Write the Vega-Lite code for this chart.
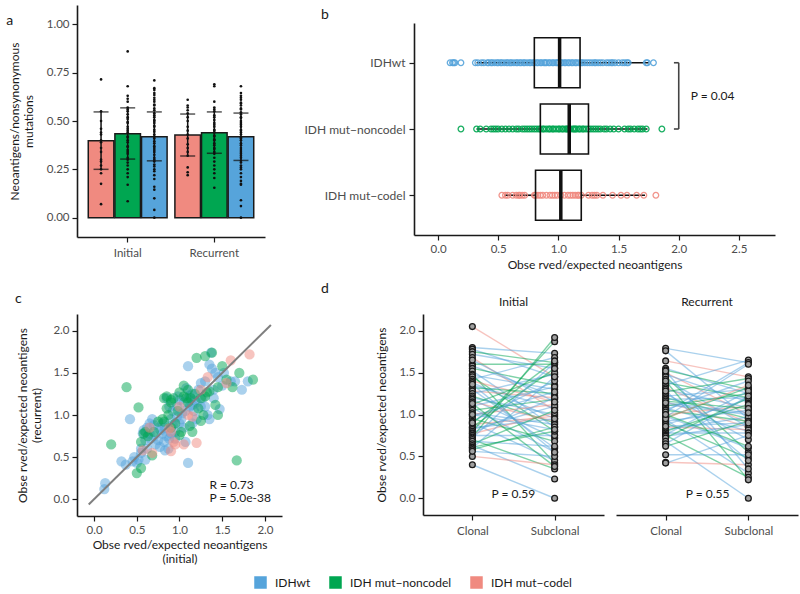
{
"$schema":"https://vega.github.io/schema/vega-lite/v6.json",
"background":"white",
"padding":{"left":6,"top":5,"right":4,"bottom":0},
"config":{
 "font":"Lato",
 "view":{"stroke":null},
 "axis":{"grid":false,"domainColor":"#1a1a1a","domainWidth":1.6,"tickColor":"#1a1a1a","tickWidth":1.2,"tickSize":5,"labelColor":"#4d4d4d","labelFont":"Lato","labelFontSize":11.5,"labelPadding":3,"titleFont":"Lato","titleFontSize":12,"titleFontWeight":"normal","titleColor":"#1a1a1a"},
 "title":{"font":"Lato","fontSize":14,"fontWeight":"normal","color":"#1a1a1a","anchor":"start"}
},
"datasets":{
 "abar":[
  {"g":"Initial","t":"IDH mut−codel","m":0.398,"lo":0.25,"hi":0.547},
  {"g":"Initial","t":"IDH mut−noncodel","m":0.434,"lo":0.303,"hi":0.568},
  {"g":"Initial","t":"IDHwt","m":0.418,"lo":0.294,"hi":0.547},
  {"g":"Recurrent","t":"IDH mut−codel","m":0.428,"lo":0.319,"hi":0.536},
  {"g":"Recurrent","t":"IDH mut−noncodel","m":0.439,"lo":0.333,"hi":0.547},
  {"g":"Recurrent","t":"IDHwt","m":0.418,"lo":0.296,"hi":0.541}
 ],
 "adot":[
  {"g":"Initial","t":"IDH mut−codel","v":0.715},{"g":"Initial","t":"IDH mut−codel","v":0.55},{"g":"Initial","t":"IDH mut−codel","v":0.5},{"g":"Initial","t":"IDH mut−codel","v":0.46},{"g":"Initial","t":"IDH mut−codel","v":0.44},{"g":"Initial","t":"IDH mut−codel","v":0.43},{"g":"Initial","t":"IDH mut−codel","v":0.4},{"g":"Initial","t":"IDH mut−codel","v":0.39},{"g":"Initial","t":"IDH mut−codel","v":0.36},{"g":"Initial","t":"IDH mut−codel","v":0.34},{"g":"Initial","t":"IDH mut−codel","v":0.3},{"g":"Initial","t":"IDH mut−codel","v":0.29},{"g":"Initial","t":"IDH mut−codel","v":0.27},{"g":"Initial","t":"IDH mut−codel","v":0.25},{"g":"Initial","t":"IDH mut−codel","v":0.23},{"g":"Initial","t":"IDH mut−codel","v":0.175},{"g":"Initial","t":"IDH mut−codel","v":0.07},
  {"g":"Initial","t":"IDH mut−noncodel","v":0.86},{"g":"Initial","t":"IDH mut−noncodel","v":0.68},{"g":"Initial","t":"IDH mut−noncodel","v":0.63},{"g":"Initial","t":"IDH mut−noncodel","v":0.615},{"g":"Initial","t":"IDH mut−noncodel","v":0.6},{"g":"Initial","t":"IDH mut−noncodel","v":0.57},{"g":"Initial","t":"IDH mut−noncodel","v":0.56},{"g":"Initial","t":"IDH mut−noncodel","v":0.55},{"g":"Initial","t":"IDH mut−noncodel","v":0.535},{"g":"Initial","t":"IDH mut−noncodel","v":0.52},{"g":"Initial","t":"IDH mut−noncodel","v":0.51},{"g":"Initial","t":"IDH mut−noncodel","v":0.495},{"g":"Initial","t":"IDH mut−noncodel","v":0.49},{"g":"Initial","t":"IDH mut−noncodel","v":0.47},{"g":"Initial","t":"IDH mut−noncodel","v":0.46},{"g":"Initial","t":"IDH mut−noncodel","v":0.45},{"g":"Initial","t":"IDH mut−noncodel","v":0.44},{"g":"Initial","t":"IDH mut−noncodel","v":0.42},{"g":"Initial","t":"IDH mut−noncodel","v":0.415},{"g":"Initial","t":"IDH mut−noncodel","v":0.4},{"g":"Initial","t":"IDH mut−noncodel","v":0.39},{"g":"Initial","t":"IDH mut−noncodel","v":0.37},{"g":"Initial","t":"IDH mut−noncodel","v":0.365},{"g":"Initial","t":"IDH mut−noncodel","v":0.35},{"g":"Initial","t":"IDH mut−noncodel","v":0.34},{"g":"Initial","t":"IDH mut−noncodel","v":0.33},{"g":"Initial","t":"IDH mut−noncodel","v":0.31},{"g":"Initial","t":"IDH mut−noncodel","v":0.3},{"g":"Initial","t":"IDH mut−noncodel","v":0.285},{"g":"Initial","t":"IDH mut−noncodel","v":0.27},{"g":"Initial","t":"IDH mut−noncodel","v":0.25},{"g":"Initial","t":"IDH mut−noncodel","v":0.23},{"g":"Initial","t":"IDH mut−noncodel","v":0.21},{"g":"Initial","t":"IDH mut−noncodel","v":0.17},{"g":"Initial","t":"IDH mut−noncodel","v":0.085},
  {"g":"Initial","t":"IDHwt","v":0.71},{"g":"Initial","t":"IDHwt","v":0.67},{"g":"Initial","t":"IDHwt","v":0.66},{"g":"Initial","t":"IDHwt","v":0.645},{"g":"Initial","t":"IDHwt","v":0.635},{"g":"Initial","t":"IDHwt","v":0.62},{"g":"Initial","t":"IDHwt","v":0.61},{"g":"Initial","t":"IDHwt","v":0.6},{"g":"Initial","t":"IDHwt","v":0.585},{"g":"Initial","t":"IDHwt","v":0.58},{"g":"Initial","t":"IDHwt","v":0.565},{"g":"Initial","t":"IDHwt","v":0.555},{"g":"Initial","t":"IDHwt","v":0.54},{"g":"Initial","t":"IDHwt","v":0.53},{"g":"Initial","t":"IDHwt","v":0.52},{"g":"Initial","t":"IDHwt","v":0.505},{"g":"Initial","t":"IDHwt","v":0.5},{"g":"Initial","t":"IDHwt","v":0.49},{"g":"Initial","t":"IDHwt","v":0.475},{"g":"Initial","t":"IDHwt","v":0.47},{"g":"Initial","t":"IDHwt","v":0.455},{"g":"Initial","t":"IDHwt","v":0.445},{"g":"Initial","t":"IDHwt","v":0.43},{"g":"Initial","t":"IDHwt","v":0.42},{"g":"Initial","t":"IDHwt","v":0.41},{"g":"Initial","t":"IDHwt","v":0.395},{"g":"Initial","t":"IDHwt","v":0.385},{"g":"Initial","t":"IDHwt","v":0.37},{"g":"Initial","t":"IDHwt","v":0.36},{"g":"Initial","t":"IDHwt","v":0.35},{"g":"Initial","t":"IDHwt","v":0.34},{"g":"Initial","t":"IDHwt","v":0.325},{"g":"Initial","t":"IDHwt","v":0.31},{"g":"Initial","t":"IDHwt","v":0.3},{"g":"Initial","t":"IDHwt","v":0.29},{"g":"Initial","t":"IDHwt","v":0.275},{"g":"Initial","t":"IDHwt","v":0.265},{"g":"Initial","t":"IDHwt","v":0.25},{"g":"Initial","t":"IDHwt","v":0.24},{"g":"Initial","t":"IDHwt","v":0.22},{"g":"Initial","t":"IDHwt","v":0.2},{"g":"Initial","t":"IDHwt","v":0.16},{"g":"Initial","t":"IDHwt","v":0.145},{"g":"Initial","t":"IDHwt","v":0.1},{"g":"Initial","t":"IDHwt","v":0.04},{"g":"Initial","t":"IDHwt","v":0.0},
  {"g":"Recurrent","t":"IDH mut−codel","v":0.61},{"g":"Recurrent","t":"IDH mut−codel","v":0.58},{"g":"Recurrent","t":"IDH mut−codel","v":0.57},{"g":"Recurrent","t":"IDH mut−codel","v":0.555},{"g":"Recurrent","t":"IDH mut−codel","v":0.54},{"g":"Recurrent","t":"IDH mut−codel","v":0.52},{"g":"Recurrent","t":"IDH mut−codel","v":0.5},{"g":"Recurrent","t":"IDH mut−codel","v":0.47},{"g":"Recurrent","t":"IDH mut−codel","v":0.45},{"g":"Recurrent","t":"IDH mut−codel","v":0.43},{"g":"Recurrent","t":"IDH mut−codel","v":0.41},{"g":"Recurrent","t":"IDH mut−codel","v":0.38},{"g":"Recurrent","t":"IDH mut−codel","v":0.36},{"g":"Recurrent","t":"IDH mut−codel","v":0.34},{"g":"Recurrent","t":"IDH mut−codel","v":0.32},{"g":"Recurrent","t":"IDH mut−codel","v":0.26},{"g":"Recurrent","t":"IDH mut−codel","v":0.235},{"g":"Recurrent","t":"IDH mut−codel","v":0.22},
  {"g":"Recurrent","t":"IDH mut−noncodel","v":0.69},{"g":"Recurrent","t":"IDH mut−noncodel","v":0.68},{"g":"Recurrent","t":"IDH mut−noncodel","v":0.6},{"g":"Recurrent","t":"IDH mut−noncodel","v":0.57},{"g":"Recurrent","t":"IDH mut−noncodel","v":0.56},{"g":"Recurrent","t":"IDH mut−noncodel","v":0.55},{"g":"Recurrent","t":"IDH mut−noncodel","v":0.53},{"g":"Recurrent","t":"IDH mut−noncodel","v":0.52},{"g":"Recurrent","t":"IDH mut−noncodel","v":0.505},{"g":"Recurrent","t":"IDH mut−noncodel","v":0.49},{"g":"Recurrent","t":"IDH mut−noncodel","v":0.48},{"g":"Recurrent","t":"IDH mut−noncodel","v":0.47},{"g":"Recurrent","t":"IDH mut−noncodel","v":0.455},{"g":"Recurrent","t":"IDH mut−noncodel","v":0.45},{"g":"Recurrent","t":"IDH mut−noncodel","v":0.44},{"g":"Recurrent","t":"IDH mut−noncodel","v":0.425},{"g":"Recurrent","t":"IDH mut−noncodel","v":0.42},{"g":"Recurrent","t":"IDH mut−noncodel","v":0.405},{"g":"Recurrent","t":"IDH mut−noncodel","v":0.4},{"g":"Recurrent","t":"IDH mut−noncodel","v":0.385},{"g":"Recurrent","t":"IDH mut−noncodel","v":0.375},{"g":"Recurrent","t":"IDH mut−noncodel","v":0.36},{"g":"Recurrent","t":"IDH mut−noncodel","v":0.355},{"g":"Recurrent","t":"IDH mut−noncodel","v":0.34},{"g":"Recurrent","t":"IDH mut−noncodel","v":0.33},{"g":"Recurrent","t":"IDH mut−noncodel","v":0.31},{"g":"Recurrent","t":"IDH mut−noncodel","v":0.29},{"g":"Recurrent","t":"IDH mut−noncodel","v":0.27},{"g":"Recurrent","t":"IDH mut−noncodel","v":0.25},{"g":"Recurrent","t":"IDH mut−noncodel","v":0.23},{"g":"Recurrent","t":"IDH mut−noncodel","v":0.205},{"g":"Recurrent","t":"IDH mut−noncodel","v":0.155},
  {"g":"Recurrent","t":"IDHwt","v":0.68},{"g":"Recurrent","t":"IDHwt","v":0.645},{"g":"Recurrent","t":"IDHwt","v":0.63},{"g":"Recurrent","t":"IDHwt","v":0.62},{"g":"Recurrent","t":"IDHwt","v":0.61},{"g":"Recurrent","t":"IDHwt","v":0.595},{"g":"Recurrent","t":"IDHwt","v":0.59},{"g":"Recurrent","t":"IDHwt","v":0.58},{"g":"Recurrent","t":"IDHwt","v":0.565},{"g":"Recurrent","t":"IDHwt","v":0.56},{"g":"Recurrent","t":"IDHwt","v":0.545},{"g":"Recurrent","t":"IDHwt","v":0.535},{"g":"Recurrent","t":"IDHwt","v":0.52},{"g":"Recurrent","t":"IDHwt","v":0.515},{"g":"Recurrent","t":"IDHwt","v":0.5},{"g":"Recurrent","t":"IDHwt","v":0.49},{"g":"Recurrent","t":"IDHwt","v":0.48},{"g":"Recurrent","t":"IDHwt","v":0.47},{"g":"Recurrent","t":"IDHwt","v":0.455},{"g":"Recurrent","t":"IDHwt","v":0.45},{"g":"Recurrent","t":"IDHwt","v":0.44},{"g":"Recurrent","t":"IDHwt","v":0.43},{"g":"Recurrent","t":"IDHwt","v":0.415},{"g":"Recurrent","t":"IDHwt","v":0.41},{"g":"Recurrent","t":"IDHwt","v":0.4},{"g":"Recurrent","t":"IDHwt","v":0.385},{"g":"Recurrent","t":"IDHwt","v":0.375},{"g":"Recurrent","t":"IDHwt","v":0.36},{"g":"Recurrent","t":"IDHwt","v":0.35},{"g":"Recurrent","t":"IDHwt","v":0.34},{"g":"Recurrent","t":"IDHwt","v":0.33},{"g":"Recurrent","t":"IDHwt","v":0.32},{"g":"Recurrent","t":"IDHwt","v":0.31},{"g":"Recurrent","t":"IDHwt","v":0.295},{"g":"Recurrent","t":"IDHwt","v":0.285},{"g":"Recurrent","t":"IDHwt","v":0.27},{"g":"Recurrent","t":"IDHwt","v":0.26},{"g":"Recurrent","t":"IDHwt","v":0.25},{"g":"Recurrent","t":"IDHwt","v":0.23},{"g":"Recurrent","t":"IDHwt","v":0.21},{"g":"Recurrent","t":"IDHwt","v":0.19},{"g":"Recurrent","t":"IDHwt","v":0.175},{"g":"Recurrent","t":"IDHwt","v":0.17},{"g":"Recurrent","t":"IDHwt","v":0.09},{"g":"Recurrent","t":"IDHwt","v":0.06},{"g":"Recurrent","t":"IDHwt","v":0.0}
 ],
 "bbox":[
  {"t":"IDHwt","lo":0.32,"q1":0.8,"med":1.01,"q3":1.18,"hi":1.75},
  {"t":"IDH mut−noncodel","lo":0.32,"q1":0.85,"med":1.09,"q3":1.25,"hi":1.74},
  {"t":"IDH mut−codel","lo":0.55,"q1":0.81,"med":1.02,"q3":1.19,"hi":1.72}
 ],
 "bpts":[
  {"t":"IDHwt","x":0.1},{"t":"IDHwt","x":0.12},{"t":"IDHwt","x":0.13},{"t":"IDHwt","x":0.14},{"t":"IDHwt","x":0.19},{"t":"IDHwt","x":0.31},{"t":"IDHwt","x":0.33},{"t":"IDHwt","x":0.36},{"t":"IDHwt","x":0.38},{"t":"IDHwt","x":0.41},{"t":"IDHwt","x":0.42},{"t":"IDHwt","x":0.44},{"t":"IDHwt","x":0.45},{"t":"IDHwt","x":0.47},{"t":"IDHwt","x":0.49},{"t":"IDHwt","x":0.5},{"t":"IDHwt","x":0.52},{"t":"IDHwt","x":0.53},{"t":"IDHwt","x":0.55},{"t":"IDHwt","x":0.57},{"t":"IDHwt","x":0.58},{"t":"IDHwt","x":0.6},{"t":"IDHwt","x":0.61},{"t":"IDHwt","x":0.63},{"t":"IDHwt","x":0.65},{"t":"IDHwt","x":0.66},{"t":"IDHwt","x":0.68},{"t":"IDHwt","x":0.69},{"t":"IDHwt","x":0.71},{"t":"IDHwt","x":0.72},{"t":"IDHwt","x":0.74},{"t":"IDHwt","x":0.76},{"t":"IDHwt","x":0.77},{"t":"IDHwt","x":0.79},{"t":"IDHwt","x":0.8},{"t":"IDHwt","x":0.82},{"t":"IDHwt","x":0.83},{"t":"IDHwt","x":0.85},{"t":"IDHwt","x":0.86},{"t":"IDHwt","x":0.88},{"t":"IDHwt","x":0.89},{"t":"IDHwt","x":0.9},{"t":"IDHwt","x":0.92},{"t":"IDHwt","x":0.93},{"t":"IDHwt","x":0.95},{"t":"IDHwt","x":0.96},{"t":"IDHwt","x":0.98},{"t":"IDHwt","x":0.99},{"t":"IDHwt","x":1.0},{"t":"IDHwt","x":1.02},{"t":"IDHwt","x":1.03},{"t":"IDHwt","x":1.05},{"t":"IDHwt","x":1.06},{"t":"IDHwt","x":1.08},{"t":"IDHwt","x":1.09},{"t":"IDHwt","x":1.11},{"t":"IDHwt","x":1.12},{"t":"IDHwt","x":1.14},{"t":"IDHwt","x":1.15},{"t":"IDHwt","x":1.17},{"t":"IDHwt","x":1.19},{"t":"IDHwt","x":1.2},{"t":"IDHwt","x":1.22},{"t":"IDHwt","x":1.24},{"t":"IDHwt","x":1.26},{"t":"IDHwt","x":1.28},{"t":"IDHwt","x":1.3},{"t":"IDHwt","x":1.31},{"t":"IDHwt","x":1.33},{"t":"IDHwt","x":1.35},{"t":"IDHwt","x":1.37},{"t":"IDHwt","x":1.4},{"t":"IDHwt","x":1.42},{"t":"IDHwt","x":1.44},{"t":"IDHwt","x":1.45},{"t":"IDHwt","x":1.47},{"t":"IDHwt","x":1.5},{"t":"IDHwt","x":1.53},{"t":"IDHwt","x":1.55},{"t":"IDHwt","x":1.57},{"t":"IDHwt","x":1.58},{"t":"IDHwt","x":1.73},{"t":"IDHwt","x":1.74},{"t":"IDHwt","x":1.79},
  {"t":"IDH mut−noncodel","x":0.19},{"t":"IDH mut−noncodel","x":0.32},{"t":"IDH mut−noncodel","x":0.35},{"t":"IDH mut−noncodel","x":0.4},{"t":"IDH mut−noncodel","x":0.44},{"t":"IDH mut−noncodel","x":0.46},{"t":"IDH mut−noncodel","x":0.48},{"t":"IDH mut−noncodel","x":0.5},{"t":"IDH mut−noncodel","x":0.53},{"t":"IDH mut−noncodel","x":0.56},{"t":"IDH mut−noncodel","x":0.59},{"t":"IDH mut−noncodel","x":0.62},{"t":"IDH mut−noncodel","x":0.65},{"t":"IDH mut−noncodel","x":0.67},{"t":"IDH mut−noncodel","x":0.7},{"t":"IDH mut−noncodel","x":0.72},{"t":"IDH mut−noncodel","x":0.74},{"t":"IDH mut−noncodel","x":0.76},{"t":"IDH mut−noncodel","x":0.78},{"t":"IDH mut−noncodel","x":0.8},{"t":"IDH mut−noncodel","x":0.82},{"t":"IDH mut−noncodel","x":0.84},{"t":"IDH mut−noncodel","x":0.85},{"t":"IDH mut−noncodel","x":0.87},{"t":"IDH mut−noncodel","x":0.88},{"t":"IDH mut−noncodel","x":0.9},{"t":"IDH mut−noncodel","x":0.92},{"t":"IDH mut−noncodel","x":0.93},{"t":"IDH mut−noncodel","x":0.95},{"t":"IDH mut−noncodel","x":0.96},{"t":"IDH mut−noncodel","x":0.98},{"t":"IDH mut−noncodel","x":1.0},{"t":"IDH mut−noncodel","x":1.01},{"t":"IDH mut−noncodel","x":1.03},{"t":"IDH mut−noncodel","x":1.04},{"t":"IDH mut−noncodel","x":1.06},{"t":"IDH mut−noncodel","x":1.07},{"t":"IDH mut−noncodel","x":1.08},{"t":"IDH mut−noncodel","x":1.09},{"t":"IDH mut−noncodel","x":1.1},{"t":"IDH mut−noncodel","x":1.12},{"t":"IDH mut−noncodel","x":1.13},{"t":"IDH mut−noncodel","x":1.14},{"t":"IDH mut−noncodel","x":1.15},{"t":"IDH mut−noncodel","x":1.17},{"t":"IDH mut−noncodel","x":1.18},{"t":"IDH mut−noncodel","x":1.2},{"t":"IDH mut−noncodel","x":1.21},{"t":"IDH mut−noncodel","x":1.23},{"t":"IDH mut−noncodel","x":1.25},{"t":"IDH mut−noncodel","x":1.27},{"t":"IDH mut−noncodel","x":1.29},{"t":"IDH mut−noncodel","x":1.31},{"t":"IDH mut−noncodel","x":1.33},{"t":"IDH mut−noncodel","x":1.35},{"t":"IDH mut−noncodel","x":1.38},{"t":"IDH mut−noncodel","x":1.4},{"t":"IDH mut−noncodel","x":1.43},{"t":"IDH mut−noncodel","x":1.46},{"t":"IDH mut−noncodel","x":1.5},{"t":"IDH mut−noncodel","x":1.55},{"t":"IDH mut−noncodel","x":1.58},{"t":"IDH mut−noncodel","x":1.6},{"t":"IDH mut−noncodel","x":1.63},{"t":"IDH mut−noncodel","x":1.66},{"t":"IDH mut−noncodel","x":1.68},{"t":"IDH mut−noncodel","x":1.7},{"t":"IDH mut−noncodel","x":1.73},{"t":"IDH mut−noncodel","x":1.86},
  {"t":"IDH mut−codel","x":0.53},{"t":"IDH mut−codel","x":0.56},{"t":"IDH mut−codel","x":0.58},{"t":"IDH mut−codel","x":0.62},{"t":"IDH mut−codel","x":0.65},{"t":"IDH mut−codel","x":0.67},{"t":"IDH mut−codel","x":0.68},{"t":"IDH mut−codel","x":0.7},{"t":"IDH mut−codel","x":0.72},{"t":"IDH mut−codel","x":0.8},{"t":"IDH mut−codel","x":0.81},{"t":"IDH mut−codel","x":0.83},{"t":"IDH mut−codel","x":0.85},{"t":"IDH mut−codel","x":0.87},{"t":"IDH mut−codel","x":0.9},{"t":"IDH mut−codel","x":0.93},{"t":"IDH mut−codel","x":0.95},{"t":"IDH mut−codel","x":0.97},{"t":"IDH mut−codel","x":0.99},{"t":"IDH mut−codel","x":1.02},{"t":"IDH mut−codel","x":1.05},{"t":"IDH mut−codel","x":1.08},{"t":"IDH mut−codel","x":1.1},{"t":"IDH mut−codel","x":1.12},{"t":"IDH mut−codel","x":1.14},{"t":"IDH mut−codel","x":1.16},{"t":"IDH mut−codel","x":1.17},{"t":"IDH mut−codel","x":1.19},{"t":"IDH mut−codel","x":1.25},{"t":"IDH mut−codel","x":1.28},{"t":"IDH mut−codel","x":1.3},{"t":"IDH mut−codel","x":1.32},{"t":"IDH mut−codel","x":1.37},{"t":"IDH mut−codel","x":1.45},{"t":"IDH mut−codel","x":1.52},{"t":"IDH mut−codel","x":1.57},{"t":"IDH mut−codel","x":1.65},{"t":"IDH mut−codel","x":1.71},{"t":"IDH mut−codel","x":1.81}
 ],
 "cpts":[
  {"t":"IDHwt","x":0.12,"y":0.12},{"t":"IDHwt","x":0.13,"y":0.19},{"t":"IDHwt","x":0.32,"y":0.45},{"t":"IDHwt","x":0.37,"y":0.41},{"t":"IDHwt","x":0.45,"y":0.45},{"t":"IDHwt","x":0.47,"y":0.5},{"t":"IDHwt","x":0.5,"y":0.43},{"t":"IDHwt","x":0.52,"y":0.47},{"t":"IDHwt","x":0.55,"y":0.55},{"t":"IDHwt","x":0.6,"y":0.47},{"t":"IDHwt","x":0.57,"y":0.78},{"t":"IDHwt","x":0.58,"y":0.82},{"t":"IDHwt","x":0.62,"y":0.85},{"t":"IDHwt","x":0.65,"y":0.9},{"t":"IDHwt","x":0.7,"y":0.75},{"t":"IDHwt","x":0.72,"y":0.65},{"t":"IDHwt","x":0.75,"y":0.7},{"t":"IDHwt","x":0.78,"y":0.82},{"t":"IDHwt","x":0.8,"y":0.9},{"t":"IDHwt","x":0.82,"y":0.68},{"t":"IDHwt","x":0.85,"y":0.75},{"t":"IDHwt","x":0.87,"y":0.6},{"t":"IDHwt","x":0.88,"y":0.72},{"t":"IDHwt","x":0.9,"y":0.95},{"t":"IDHwt","x":0.92,"y":1.05},{"t":"IDHwt","x":0.95,"y":0.8},{"t":"IDHwt","x":0.97,"y":1.1},{"t":"IDHwt","x":1.0,"y":0.9},{"t":"IDHwt","x":1.02,"y":0.95},{"t":"IDHwt","x":1.05,"y":1.15},{"t":"IDHwt","x":1.07,"y":1.05},{"t":"IDHwt","x":1.1,"y":0.43},{"t":"IDHwt","x":1.1,"y":1.2},{"t":"IDHwt","x":1.12,"y":1.1},{"t":"IDHwt","x":1.15,"y":1.25},{"t":"IDHwt","x":1.17,"y":1.05},{"t":"IDHwt","x":1.2,"y":1.15},{"t":"IDHwt","x":1.22,"y":1.3},{"t":"IDHwt","x":1.25,"y":1.1},{"t":"IDHwt","x":1.27,"y":1.2},{"t":"IDHwt","x":1.3,"y":1.4},{"t":"IDHwt","x":1.33,"y":1.0},{"t":"IDHwt","x":1.35,"y":0.95},{"t":"IDHwt","x":1.38,"y":1.55},{"t":"IDHwt","x":1.4,"y":1.3},{"t":"IDHwt","x":1.42,"y":1.5},{"t":"IDHwt","x":1.45,"y":1.45},{"t":"IDHwt","x":1.47,"y":1.07},{"t":"IDHwt","x":1.5,"y":1.35},{"t":"IDHwt","x":1.52,"y":1.5},{"t":"IDHwt","x":1.6,"y":1.4},{"t":"IDHwt","x":1.65,"y":1.4},{"t":"IDHwt","x":1.73,"y":1.3},{"t":"IDHwt","x":1.8,"y":1.4},{"t":"IDHwt","x":1.1,"y":1.58},{"t":"IDHwt","x":0.42,"y":0.95},{"t":"IDHwt","x":0.65,"y":0.78},{"t":"IDHwt","x":0.6,"y":0.7},{"t":"IDHwt","x":0.83,"y":0.58},{"t":"IDHwt","x":0.95,"y":0.72},{"t":"IDHwt","x":1.07,"y":0.68},{"t":"IDHwt","x":0.97,"y":0.98},{"t":"IDHwt","x":0.85,"y":1.2},{"t":"IDHwt","x":0.88,"y":1.1},{"t":"IDHwt","x":0.75,"y":0.85},{"t":"IDHwt","x":0.68,"y":0.95},{"t":"IDHwt","x":1.0,"y":1.18},{"t":"IDHwt","x":1.15,"y":0.9},{"t":"IDHwt","x":1.03,"y":1.02},{"t":"IDHwt","x":0.8,"y":0.78},{"t":"IDHwt","x":0.9,"y":0.78},{"t":"IDHwt","x":1.12,"y":1.23},{"t":"IDHwt","x":1.18,"y":1.17},{"t":"IDHwt","x":1.3,"y":1.1},{"t":"IDHwt","x":1.4,"y":1.2},{"t":"IDHwt","x":1.37,"y":1.74},{"t":"IDHwt","x":1.35,"y":1.6},{"t":"IDHwt","x":0.62,"y":0.6},{"t":"IDHwt","x":0.7,"y":0.88},{"t":"IDHwt","x":0.77,"y":0.62},{"t":"IDHwt","x":0.83,"y":0.85},{"t":"IDHwt","x":0.92,"y":0.88},{"t":"IDHwt","x":1.05,"y":0.85},{"t":"IDHwt","x":1.2,"y":0.95},{"t":"IDHwt","x":1.25,"y":1.38},{"t":"IDHwt","x":0.98,"y":1.22},{"t":"IDHwt","x":1.08,"y":1.32},{"t":"IDHwt","x":0.55,"y":0.6},{"t":"IDHwt","x":0.66,"y":0.72},{"t":"IDHwt","x":1.15,"y":1.12},
  {"t":"IDH mut−noncodel","x":0.2,"y":0.65},{"t":"IDH mut−noncodel","x":0.38,"y":1.33},{"t":"IDH mut−noncodel","x":0.5,"y":0.31},{"t":"IDH mut−noncodel","x":0.55,"y":0.37},{"t":"IDH mut−noncodel","x":0.52,"y":1.09},{"t":"IDH mut−noncodel","x":0.55,"y":0.68},{"t":"IDH mut−noncodel","x":0.58,"y":0.78},{"t":"IDH mut−noncodel","x":0.68,"y":0.52},{"t":"IDH mut−noncodel","x":0.6,"y":0.8},{"t":"IDH mut−noncodel","x":0.75,"y":0.92},{"t":"IDH mut−noncodel","x":0.82,"y":1.2},{"t":"IDH mut−noncodel","x":0.85,"y":1.08},{"t":"IDH mut−noncodel","x":0.9,"y":1.18},{"t":"IDH mut−noncodel","x":1.0,"y":1.27},{"t":"IDH mut−noncodel","x":1.05,"y":1.35},{"t":"IDH mut−noncodel","x":1.08,"y":1.2},{"t":"IDH mut−noncodel","x":1.1,"y":1.3},{"t":"IDH mut−noncodel","x":1.13,"y":1.2},{"t":"IDH mut−noncodel","x":1.2,"y":1.68},{"t":"IDH mut−noncodel","x":1.3,"y":1.7},{"t":"IDH mut−noncodel","x":1.38,"y":1.74},{"t":"IDH mut−noncodel","x":1.45,"y":1.33},{"t":"IDH mut−noncodel","x":1.5,"y":1.58},{"t":"IDH mut−noncodel","x":1.55,"y":1.42},{"t":"IDH mut−noncodel","x":1.62,"y":1.33},{"t":"IDH mut−noncodel","x":1.7,"y":1.5},{"t":"IDH mut−noncodel","x":1.86,"y":1.42},{"t":"IDH mut−noncodel","x":1.67,"y":0.46},{"t":"IDH mut−noncodel","x":1.45,"y":1.0},{"t":"IDH mut−noncodel","x":1.42,"y":1.12},{"t":"IDH mut−noncodel","x":1.15,"y":0.8},{"t":"IDH mut−noncodel","x":1.12,"y":0.87},{"t":"IDH mut−noncodel","x":1.0,"y":0.76},{"t":"IDH mut−noncodel","x":0.95,"y":0.9},{"t":"IDH mut−noncodel","x":0.82,"y":0.92},{"t":"IDH mut−noncodel","x":1.25,"y":1.2},{"t":"IDH mut−noncodel","x":1.3,"y":1.22},{"t":"IDH mut−noncodel","x":1.32,"y":1.27},{"t":"IDH mut−noncodel","x":1.22,"y":1.08},{"t":"IDH mut−noncodel","x":1.25,"y":0.93},{"t":"IDH mut−noncodel","x":1.28,"y":1.0},{"t":"IDH mut−noncodel","x":0.98,"y":1.05},{"t":"IDH mut−noncodel","x":0.9,"y":1.15},{"t":"IDH mut−noncodel","x":0.87,"y":1.0},{"t":"IDH mut−noncodel","x":0.8,"y":0.95},{"t":"IDH mut−noncodel","x":0.7,"y":0.8},{"t":"IDH mut−noncodel","x":0.9,"y":0.85},{"t":"IDH mut−noncodel","x":1.05,"y":1.22},{"t":"IDH mut−noncodel","x":0.93,"y":1.2},{"t":"IDH mut−noncodel","x":1.18,"y":1.25},{"t":"IDH mut−noncodel","x":1.35,"y":1.28},{"t":"IDH mut−noncodel","x":0.63,"y":0.75},{"t":"IDH mut−noncodel","x":1.02,"y":0.8},{"t":"IDH mut−noncodel","x":1.1,"y":1.15},{"t":"IDH mut−noncodel","x":0.85,"y":1.22},
  {"t":"IDH mut−codel","x":0.57,"y":0.58},{"t":"IDH mut−codel","x":0.65,"y":0.85},{"t":"IDH mut−codel","x":0.9,"y":0.57},{"t":"IDH mut−codel","x":0.95,"y":0.65},{"t":"IDH mut−codel","x":1.05,"y":0.65},{"t":"IDH mut−codel","x":1.2,"y":0.67},{"t":"IDH mut−codel","x":0.88,"y":0.84},{"t":"IDH mut−codel","x":0.93,"y":0.68},{"t":"IDH mut−codel","x":1.33,"y":1.45},{"t":"IDH mut−codel","x":1.6,"y":1.65},{"t":"IDH mut−codel","x":1.55,"y":1.38},{"t":"IDH mut−codel","x":1.82,"y":1.72},{"t":"IDH mut−codel","x":1.1,"y":1.0},{"t":"IDH mut−codel","x":1.0,"y":1.1},{"t":"IDH mut−codel","x":1.25,"y":1.3},{"t":"IDH mut−codel","x":0.68,"y":0.55},{"t":"IDH mut−codel","x":1.15,"y":0.98},{"t":"IDH mut−codel","x":0.9,"y":0.8}
 ],
 "dI":[
  {"id":"i1","t":"IDH mut−codel","Clonal":2.05,"Subclonal":1.45},{"id":"i2","t":"IDHwt","Clonal":1.8,"Subclonal":1.73},{"id":"i3","t":"IDHwt","Clonal":1.78,"Subclonal":1.45},{"id":"i4","t":"IDH mut−noncodel","Clonal":1.75,"Subclonal":1.62},{"id":"i5","t":"IDHwt","Clonal":1.72,"Subclonal":1.55},{"id":"i6","t":"IDH mut−codel","Clonal":1.68,"Subclonal":1.05},{"id":"i7","t":"IDH mut−noncodel","Clonal":1.6,"Subclonal":1.6},{"id":"i8","t":"IDHwt","Clonal":1.58,"Subclonal":1.22},{"id":"i9","t":"IDH mut−noncodel","Clonal":1.55,"Subclonal":1.35},{"id":"i10","t":"IDHwt","Clonal":1.52,"Subclonal":0.85},{"id":"i11","t":"IDH mut−noncodel","Clonal":1.48,"Subclonal":0.42},{"id":"i12","t":"IDHwt","Clonal":1.47,"Subclonal":1.3},{"id":"i13","t":"IDH mut−noncodel","Clonal":1.45,"Subclonal":0.8},{"id":"i14","t":"IDHwt","Clonal":1.42,"Subclonal":1.68},{"id":"i15","t":"IDH mut−codel","Clonal":1.4,"Subclonal":1.15},{"id":"i16","t":"IDHwt","Clonal":1.38,"Subclonal":0.95},{"id":"i17","t":"IDHwt","Clonal":1.35,"Subclonal":1.08},{"id":"i18","t":"IDH mut−noncodel","Clonal":1.32,"Subclonal":1.25},{"id":"i19","t":"IDHwt","Clonal":1.3,"Subclonal":0.6},{"id":"i20","t":"IDH mut−codel","Clonal":1.28,"Subclonal":1.2},{"id":"i21","t":"IDHwt","Clonal":1.25,"Subclonal":1.48},{"id":"i22","t":"IDH mut−noncodel","Clonal":1.22,"Subclonal":0.9},{"id":"i23","t":"IDHwt","Clonal":1.2,"Subclonal":1.0},{"id":"i24","t":"IDHwt","Clonal":1.18,"Subclonal":0.72},{"id":"i25","t":"IDH mut−codel","Clonal":1.15,"Subclonal":0.92},{"id":"i26","t":"IDH mut−noncodel","Clonal":1.12,"Subclonal":1.5},{"id":"i27","t":"IDHwt","Clonal":1.1,"Subclonal":1.33},{"id":"i28","t":"IDHwt","Clonal":1.08,"Subclonal":0.55},{"id":"i29","t":"IDH mut−noncodel","Clonal":1.05,"Subclonal":1.18},{"id":"i30","t":"IDHwt","Clonal":1.02,"Subclonal":0.88},{"id":"i31","t":"IDH mut−codel","Clonal":1.0,"Subclonal":1.12},{"id":"i32","t":"IDHwt","Clonal":0.98,"Subclonal":1.27},{"id":"i33","t":"IDH mut−noncodel","Clonal":0.95,"Subclonal":0.68},{"id":"i34","t":"IDHwt","Clonal":0.92,"Subclonal":1.4},{"id":"i35","t":"IDHwt","Clonal":0.9,"Subclonal":0.45},{"id":"i36","t":"IDH mut−codel","Clonal":0.88,"Subclonal":0.98},{"id":"i37","t":"IDH mut−noncodel","Clonal":0.85,"Subclonal":1.55},{"id":"i38","t":"IDHwt","Clonal":0.84,"Subclonal":0.95},{"id":"i39","t":"IDHwt","Clonal":0.82,"Subclonal":1.1},{"id":"i40","t":"IDH mut−noncodel","Clonal":0.8,"Subclonal":1.87},{"id":"i41","t":"IDHwt","Clonal":0.78,"Subclonal":1.2},{"id":"i42","t":"IDH mut−codel","Clonal":0.77,"Subclonal":1.02},{"id":"i43","t":"IDHwt","Clonal":0.75,"Subclonal":0.75},{"id":"i44","t":"IDH mut−noncodel","Clonal":0.73,"Subclonal":1.92},{"id":"i45","t":"IDHwt","Clonal":0.72,"Subclonal":1.62},{"id":"i46","t":"IDH mut−noncodel","Clonal":0.7,"Subclonal":0.35},{"id":"i47","t":"IDHwt","Clonal":0.68,"Subclonal":0.62},{"id":"i48","t":"IDH mut−noncodel","Clonal":0.65,"Subclonal":1.05},{"id":"i49","t":"IDHwt","Clonal":0.63,"Subclonal":0.23},{"id":"i50","t":"IDH mut−noncodel","Clonal":0.61,"Subclonal":0.8},{"id":"i51","t":"IDHwt","Clonal":0.6,"Subclonal":1.45},{"id":"i52","t":"IDH mut−noncodel","Clonal":0.58,"Subclonal":0.85},{"id":"i53","t":"IDH mut−codel","Clonal":0.5,"Subclonal":0.4},{"id":"i54","t":"IDHwt","Clonal":0.4,"Subclonal":0.0},{"id":"i55","t":"IDHwt","Clonal":0.56,"Subclonal":0.5},{"id":"i56","t":"IDH mut−noncodel","Clonal":0.9,"Subclonal":1.64},{"id":"i57","t":"IDHwt","Clonal":1.65,"Subclonal":1.15},{"id":"i58","t":"IDH mut−noncodel","Clonal":1.13,"Subclonal":0.38},{"id":"i59","t":"IDHwt","Clonal":1.36,"Subclonal":0.55},{"id":"i60","t":"IDHwt","Clonal":1.0,"Subclonal":0.82}
 ],
 "dR":[
  {"id":"r1","t":"IDHwt","Clonal":1.79,"Subclonal":1.62},{"id":"r2","t":"IDHwt","Clonal":1.76,"Subclonal":0.95},{"id":"r3","t":"IDH mut−codel","Clonal":1.64,"Subclonal":1.45},{"id":"r4","t":"IDHwt","Clonal":1.55,"Subclonal":1.25},{"id":"r5","t":"IDH mut−noncodel","Clonal":1.53,"Subclonal":1.3},{"id":"r6","t":"IDH mut−codel","Clonal":1.5,"Subclonal":1.0},{"id":"r7","t":"IDHwt","Clonal":1.48,"Subclonal":1.15},{"id":"r8","t":"IDH mut−noncodel","Clonal":1.45,"Subclonal":0.55},{"id":"r9","t":"IDHwt","Clonal":1.42,"Subclonal":0.85},{"id":"r10","t":"IDH mut−noncodel","Clonal":1.38,"Subclonal":1.2},{"id":"r11","t":"IDHwt","Clonal":1.35,"Subclonal":1.65},{"id":"r12","t":"IDH mut−codel","Clonal":1.32,"Subclonal":0.9},{"id":"r13","t":"IDHwt","Clonal":1.3,"Subclonal":1.08},{"id":"r14","t":"IDH mut−noncodel","Clonal":1.27,"Subclonal":1.43},{"id":"r15","t":"IDHwt","Clonal":1.25,"Subclonal":0.7},{"id":"r16","t":"IDHwt","Clonal":1.22,"Subclonal":1.3},{"id":"r17","t":"IDH mut−noncodel","Clonal":1.2,"Subclonal":0.95},{"id":"r18","t":"IDHwt","Clonal":1.18,"Subclonal":1.2},{"id":"r19","t":"IDH mut−codel","Clonal":1.15,"Subclonal":0.85},{"id":"r20","t":"IDHwt","Clonal":1.12,"Subclonal":1.0},{"id":"r21","t":"IDH mut−noncodel","Clonal":1.1,"Subclonal":1.25},{"id":"r22","t":"IDHwt","Clonal":1.08,"Subclonal":0.8},{"id":"r23","t":"IDHwt","Clonal":1.06,"Subclonal":1.4},{"id":"r24","t":"IDH mut−noncodel","Clonal":1.05,"Subclonal":0.92},{"id":"r25","t":"IDHwt","Clonal":1.03,"Subclonal":1.62},{"id":"r26","t":"IDH mut−codel","Clonal":1.0,"Subclonal":1.1},{"id":"r27","t":"IDHwt","Clonal":0.98,"Subclonal":0.6},{"id":"r28","t":"IDH mut−noncodel","Clonal":0.96,"Subclonal":1.32},{"id":"r29","t":"IDHwt","Clonal":0.94,"Subclonal":0.3},{"id":"r30","t":"IDHwt","Clonal":0.92,"Subclonal":1.05},{"id":"r31","t":"IDH mut−noncodel","Clonal":0.9,"Subclonal":0.48},{"id":"r32","t":"IDHwt","Clonal":0.88,"Subclonal":1.18},{"id":"r33","t":"IDH mut−codel","Clonal":0.85,"Subclonal":0.82},{"id":"r34","t":"IDHwt","Clonal":0.82,"Subclonal":0.97},{"id":"r35","t":"IDH mut−noncodel","Clonal":0.8,"Subclonal":1.12},{"id":"r36","t":"IDHwt","Clonal":0.78,"Subclonal":0.78},{"id":"r37","t":"IDHwt","Clonal":0.76,"Subclonal":1.28},{"id":"r38","t":"IDH mut−noncodel","Clonal":0.75,"Subclonal":0.25},{"id":"r39","t":"IDHwt","Clonal":0.74,"Subclonal":0.88},{"id":"r40","t":"IDH mut−noncodel","Clonal":0.72,"Subclonal":1.2},{"id":"r41","t":"IDHwt","Clonal":0.68,"Subclonal":0.0},{"id":"r42","t":"IDHwt","Clonal":0.65,"Subclonal":1.22},{"id":"r43","t":"IDH mut−noncodel","Clonal":0.62,"Subclonal":0.92},{"id":"r44","t":"IDHwt","Clonal":0.52,"Subclonal":0.52},{"id":"r45","t":"IDH mut−codel","Clonal":0.43,"Subclonal":0.4},{"id":"r46","t":"IDHwt","Clonal":0.42,"Subclonal":0.75},{"id":"r47","t":"IDH mut−noncodel","Clonal":1.4,"Subclonal":0.22},{"id":"r48","t":"IDHwt","Clonal":1.52,"Subclonal":0.35},{"id":"r49","t":"IDHwt","Clonal":0.97,"Subclonal":1.6},{"id":"r50","t":"IDH mut−noncodel","Clonal":1.16,"Subclonal":1.07},{"id":"r51","t":"IDHwt","Clonal":1.28,"Subclonal":0.45},{"id":"r52","t":"IDH mut−codel","Clonal":0.95,"Subclonal":1.35},{"id":"r53","t":"IDHwt","Clonal":0.86,"Subclonal":0.9},{"id":"r54","t":"IDH mut−noncodel","Clonal":1.0,"Subclonal":0.62},{"id":"r55","t":"IDHwt","Clonal":1.14,"Subclonal":1.02}
 ]
},
"spacing":11,
"vconcat":[
 {"spacing":38,"hconcat":[
  {"width":188,"height":232,
   "title":{"text":"a","orient":"left","angle":0,"anchor":"end","frame":"group","align":"left","baseline":"top","offset":0,"dx":5,"dy":9},
   "layer":[
    {"data":{"name":"abar"},
     "mark":{"type":"bar","stroke":"#1a1a1a","strokeWidth":1.5},
     "encoding":{
      "x":{"field":"g","type":"nominal","title":null,"scale":{"paddingInner":0.09,"paddingOuter":0.13},"axis":{"labelAngle":0,"labelPadding":5}},
      "xOffset":{"field":"t","type":"nominal","scale":{"domain":["IDH mut−codel","IDH mut−noncodel","IDHwt"],"paddingInner":0.04}},
      "y":{"field":"m","type":"quantitative","scale":{"domain":[-0.047,1.047]},"axis":{"values":[0,0.25,0.5,0.75,1],"format":".2f","title":["Neoantigens/nonsynonymous","mutations"],"titlePadding":11,"titleLineHeight":14}},
      "y2":{"datum":0},
      "color":{"field":"t","type":"nominal","scale":{"domain":["IDHwt","IDH mut−noncodel","IDH mut−codel"],"range":["#56A4DB","#00A651","#F08A80"]},
        "legend":{"title":null,"orient":"none","legendX":177,"legendY":571,"direction":"horizontal","symbolType":"square","symbolSize":121,"labelFont":"Lato","labelFontSize":12,"labelColor":"#1a1a1a","columnPadding":16,"labelOffset":8,
          "encode":{"symbols":{"update":{"fill":{"scale":"color","field":"value"},"stroke":{"value":"#1a1a1a"},"strokeWidth":{"value":1},"opacity":{"value":1},"fillOpacity":{"value":1}}}}}}
     }},
    {"data":{"name":"adot"},
     "mark":{"type":"circle","size":7,"color":"#111111","opacity":1},
     "encoding":{
      "x":{"field":"g","type":"nominal"},
      "xOffset":{"field":"t","type":"nominal"},
      "y":{"field":"v","type":"quantitative"}
     }},
    {"data":{"name":"abar"},
     "mark":{"type":"rule","color":"#111111","strokeWidth":1.5},
     "encoding":{
      "x":{"field":"g","type":"nominal"},
      "xOffset":{"field":"t","type":"nominal"},
      "y":{"field":"lo","type":"quantitative"},
      "y2":{"field":"hi"}
     }},
    {"data":{"name":"abar"},
     "mark":{"type":"tick","color":"#111111","thickness":1.5,"size":15},
     "encoding":{
      "x":{"field":"g","type":"nominal"},
      "xOffset":{"field":"t","type":"nominal"},
      "y":{"field":"lo","type":"quantitative"}
     }},
    {"data":{"name":"abar"},
     "mark":{"type":"tick","color":"#111111","thickness":1.5,"size":15},
     "encoding":{
      "x":{"field":"g","type":"nominal"},
      "xOffset":{"field":"t","type":"nominal"},
      "y":{"field":"hi","type":"quantitative"}
     }}
   ]},
  {"spacing":2,"vconcat":[
   {"width":361,"height":1,"data":{"values":[]},"mark":{"type":"point","opacity":0},"encoding":{}},
   {"width":361,"height":212,
    "title":{"text":"b","frame":"bounds","anchor":"start","dx":17,"offset":1},
    "layer":[
     {"data":{"name":"bbox"},
      "mark":{"type":"rule","color":"#111111","strokeWidth":1.6},
      "encoding":{
       "x":{"field":"lo","type":"quantitative","scale":{"domain":[-0.12,2.63]},"axis":{"values":[0,0.5,1,1.5,2,2.5],"format":".1f","title":"Obse rved/expected neoantigens","titlePadding":5}},
       "x2":{"field":"q1"},
       "y":{"field":"t","type":"nominal","scale":{"type":"point","domain":["IDHwt","IDH mut−noncodel","IDH mut−codel"],"padding":0.6},"axis":{"title":null,"labelFontSize":12,"labelPadding":4}}
      }},
     {"data":{"name":"bbox"},
      "mark":{"type":"rule","color":"#111111","strokeWidth":1.6},
      "encoding":{
       "x":{"field":"q3","type":"quantitative"},
       "x2":{"field":"hi"},
       "y":{"field":"t","type":"nominal"}
      }},
     {"data":{"name":"bpts"},
      "mark":{"type":"point","filled":false,"size":32,"strokeWidth":1.3,"opacity":0.9},
      "encoding":{
       "x":{"field":"x","type":"quantitative"},
       "y":{"field":"t","type":"nominal"},
       "color":{"field":"t","type":"nominal"}
      }},
     {"data":{"name":"bbox"},
      "mark":{"type":"bar","size":50,"fill":"transparent","stroke":"#111111","strokeWidth":1.6},
      "encoding":{
       "x":{"field":"q1","type":"quantitative"},
       "x2":{"field":"q3"},
       "y":{"field":"t","type":"nominal"}
      }},
     {"data":{"name":"bbox"},
      "mark":{"type":"tick","size":50,"thickness":3.5,"color":"#111111","opacity":1},
      "encoding":{
       "x":{"field":"med","type":"quantitative"},
       "y":{"field":"t","type":"nominal"}
      }},
     {"data":{"values":[{"x1":2.0,"a":"IDHwt","b":"IDH mut−noncodel"}]},
      "mark":{"type":"rule","color":"#444444","strokeWidth":1.6},
      "encoding":{
       "x":{"field":"x1","type":"quantitative"},
       "y":{"field":"a","type":"nominal"},
       "y2":{"field":"b"}
      }},
     {"data":{"values":[{"x1":1.96,"x2":2.0,"a":"IDHwt"},{"x1":1.96,"x2":2.0,"a":"IDH mut−noncodel"}]},
      "mark":{"type":"rule","color":"#444444","strokeWidth":1.6},
      "encoding":{
       "x":{"field":"x1","type":"quantitative"},
       "x2":{"field":"x2"},
       "y":{"field":"a","type":"nominal"}
      }},
     {"data":{"values":[{"x":2.1,"a":"IDHwt","txt":"P = 0.04"}]},
      "mark":{"type":"text","align":"left","baseline":"middle","dy":33,"fontSize":12,"color":"#1a1a1a","font":"Lato"},
      "encoding":{
       "x":{"field":"x","type":"quantitative"},
       "y":{"field":"a","type":"nominal"},
       "text":{"field":"txt"}
      }}
    ]}
  ]}
 ]},
 {"spacing":38,"hconcat":[
  {"width":205,"height":202,
   "title":{"text":"c","frame":"bounds","anchor":"start","dx":-2,"offset":8},
   "layer":[
    {"data":{"name":"cpts"},
     "mark":{"type":"circle","size":105,"opacity":0.5},
     "encoding":{
      "x":{"field":"x","type":"quantitative","scale":{"domain":[-0.063,2.084]},"axis":{"values":[0,0.5,1,1.5,2],"format":".1f","title":["Obse rved/expected neoantigens","(initial)"],"titleLineHeight":14,"titlePadding":4}},
      "y":{"field":"y","type":"quantitative","scale":{"domain":[-0.09,2.07]},"axis":{"values":[0,0.5,1,1.5,2],"format":".1f","title":["Obse rved/expected neoantigens","(recurrent)"],"titleLineHeight":14,"titlePadding":9}},
      "color":{"field":"t","type":"nominal"}
     }},
    {"data":{"values":[{"x1":-0.063,"y1":-0.063,"x2":2.07,"y2":2.07}]},
     "mark":{"type":"rule","color":"#7f7f7f","strokeWidth":2},
     "encoding":{
      "x":{"field":"x1","type":"quantitative"},
      "y":{"field":"y1","type":"quantitative"},
      "x2":{"field":"x2"},
      "y2":{"field":"y2"}
     }},
    {"data":{"values":[{"x":1.35,"y":0.17,"txt":"R = 0.73"},{"x":1.35,"y":0.01,"txt":"P = 5.0e-38"}]},
     "mark":{"type":"text","align":"left","baseline":"middle","fontSize":12,"color":"#1a1a1a","font":"Lato"},
     "encoding":{
      "x":{"field":"x","type":"quantitative"},
      "y":{"field":"y","type":"quantitative"},
      "text":{"field":"txt"}
     }}
   ]},
  {"spacing":12,
   "title":{"text":"d","frame":"bounds","anchor":"start","dx":-55,"offset":0},
   "hconcat":[
   {"width":181,"height":201,
    "title":{"text":"Initial","anchor":"middle","frame":"group","fontSize":12,"offset":5},
    "layer":[
     {"data":{"name":"dI"},
      "transform":[{"fold":["Clonal","Subclonal"],"as":["k","v"]}],
      "mark":{"type":"line","strokeWidth":1.4,"opacity":0.5},
      "encoding":{
       "x":{"field":"k","type":"nominal","scale":{"type":"point","padding":0.6},"axis":{"title":null,"labelAngle":0,"labelPadding":5}},
       "y":{"field":"v","type":"quantitative","scale":{"domain":[-0.1,2.13]},"axis":{"values":[0,0.5,1,1.5,2],"format":".1f","title":"Obse rved/expected neoantigens","titlePadding":10}},
       "detail":{"field":"id"},
       "color":{"field":"t","type":"nominal"}
      }},
     {"data":{"name":"dI"},
      "transform":[{"fold":["Clonal","Subclonal"],"as":["k","v"]}],
      "mark":{"type":"point","filled":true,"fill":"#a0a0a0","stroke":"#1a1a1a","strokeWidth":1.3,"size":34,"opacity":1},
      "encoding":{
       "x":{"field":"k","type":"nominal"},
       "y":{"field":"v","type":"quantitative"}
      }},
     {"data":{"values":[{"k":"Clonal","v":0.05,"txt":"P = 0.59"}]},
      "mark":{"type":"text","align":"center","baseline":"middle","dx":41,"fontSize":12,"color":"#1a1a1a","font":"Lato"},
      "encoding":{
       "x":{"field":"k","type":"nominal"},
       "y":{"field":"v","type":"quantitative"},
       "text":{"field":"txt"}
      }}
    ]},
   {"width":182,"height":201,
    "title":{"text":"Recurrent","anchor":"middle","frame":"group","fontSize":12,"offset":5},
    "layer":[
     {"data":{"name":"dR"},
      "transform":[{"fold":["Clonal","Subclonal"],"as":["k","v"]}],
      "mark":{"type":"line","strokeWidth":1.4,"opacity":0.5},
      "encoding":{
       "x":{"field":"k","type":"nominal","scale":{"type":"point","padding":0.6},"axis":{"title":null,"labelAngle":0,"labelPadding":5}},
       "y":{"field":"v","type":"quantitative","scale":{"domain":[-0.1,2.13]},"axis":null},
       "detail":{"field":"id"},
       "color":{"field":"t","type":"nominal"}
      }},
     {"data":{"name":"dR"},
      "transform":[{"fold":["Clonal","Subclonal"],"as":["k","v"]}],
      "mark":{"type":"point","filled":true,"fill":"#a0a0a0","stroke":"#1a1a1a","strokeWidth":1.3,"size":34,"opacity":1},
      "encoding":{
       "x":{"field":"k","type":"nominal"},
       "y":{"field":"v","type":"quantitative"}
      }},
     {"data":{"values":[{"k":"Clonal","v":0.05,"txt":"P = 0.55"}]},
      "mark":{"type":"text","align":"center","baseline":"middle","dx":42,"fontSize":12,"color":"#1a1a1a","font":"Lato"},
      "encoding":{
       "x":{"field":"k","type":"nominal"},
       "y":{"field":"v","type":"quantitative"},
       "text":{"field":"txt"}
      }}
    ]}
  ]}
 ]}
]
}
